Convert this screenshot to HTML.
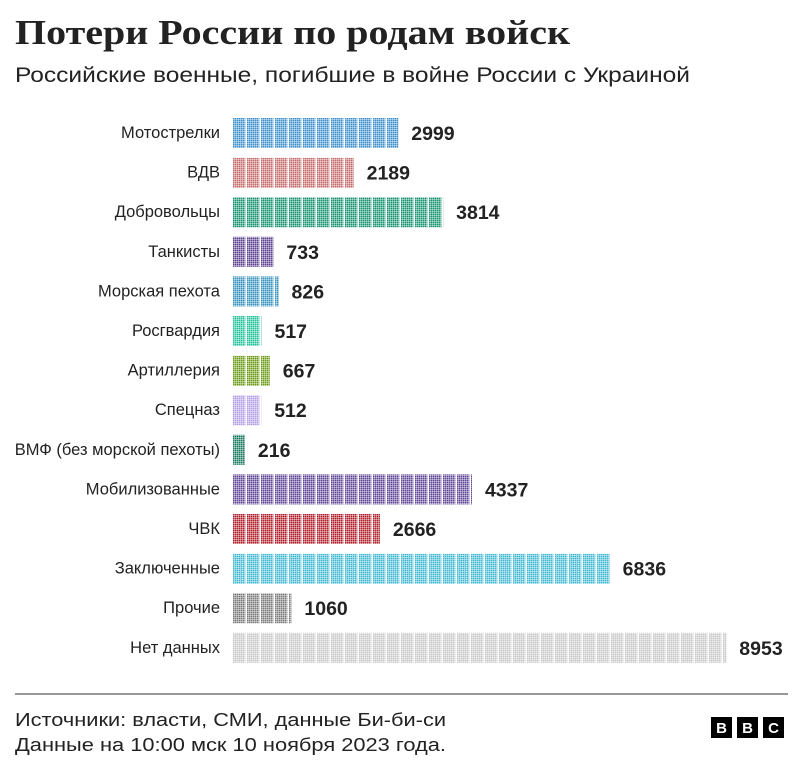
<!DOCTYPE html>
<html><head><meta charset="utf-8"><style>
html,body{margin:0;padding:0;background:#fff;}
svg{display:block;}
</style></head><body>
<svg width="803" height="771" viewBox="0 0 803 771" xmlns="http://www.w3.org/2000/svg">
<defs>
<pattern id="dots" x="233" y="0" width="2" height="2" patternUnits="userSpaceOnUse"><rect x="0" y="0" width="1.6" height="1.6" fill="#fff"/></pattern>
<pattern id="gaps" x="233" y="0" width="14" height="10" patternUnits="userSpaceOnUse"><rect x="12.4" y="0" width="1.6" height="10" fill="#fff"/></pattern>
<mask id="m" maskUnits="userSpaceOnUse" x="0" y="0" width="803" height="771"><rect width="803" height="771" fill="#000"/><rect width="803" height="771" fill="url(#dots)"/></mask>
</defs>
<text x="15" y="44" font-family="Liberation Serif, serif" font-weight="bold" font-size="35" fill="#222" textLength="555" lengthAdjust="spacingAndGlyphs">Потери России по родам войск</text>
<text x="15" y="82" font-family="Liberation Sans, DejaVu Sans, sans-serif" font-size="21" fill="#222" textLength="675" lengthAdjust="spacingAndGlyphs">Российские военные, погибшие в войне России с Украиной</text>
<g font-family="Liberation Sans, DejaVu Sans, sans-serif" id="rows"></g>
<line x1="15" y1="694" x2="788" y2="694" stroke="#777" stroke-width="1.5"/>
<g font-family="Liberation Sans, DejaVu Sans, sans-serif" font-size="18.5" fill="#222">
<text x="15" y="726" textLength="431" lengthAdjust="spacingAndGlyphs">Источники: власти, СМИ, данные Би-би-си</text>
<text x="15" y="751" textLength="431" lengthAdjust="spacingAndGlyphs">Данные на 10:00 мск 10 ноября 2023 года.</text>
</g>
<g font-family="Liberation Sans, sans-serif" font-weight="bold" font-size="15" fill="#fff" text-anchor="middle">
<rect x="711" y="717" width="21" height="21" fill="#000"/><text x="721.5" y="733">B</text>
<rect x="737" y="717" width="21" height="21" fill="#000"/><text x="747.5" y="733">B</text>
<rect x="763" y="717" width="21" height="21" fill="#000"/><text x="773.5" y="733">C</text>
</g>
</svg>
<script>
var d=[["Мотострелки",2999,"#3d8fcb"],["ВДВ",2189,"#c46a6a"],["Добровольцы",3814,"#14916f"],["Танкисты",733,"#5b3f8f"],["Морская пехота",826,"#3591bd"],["Росгвардия",517,"#22c29d"],["Артиллерия",667,"#6b9a14"],["Спецназ",512,"#b39ce6"],["ВМФ (без морской пехоты)",216,"#17785f"],["Мобилизованные",4337,"#5e4496"],["ЧВК",2666,"#b01c28"],["Заключенные",6836,"#3fb8d2"],["Прочие",1060,"#7a7a7a"],["Нет данных",8953,"#c8c8c8"]];
var g=document.getElementById("rows"),s="";
d.forEach(function(r,i){var c=133+i*39.6,w=r[1]*0.0551;
s+='<text x="220" y="'+(c+5)+'" text-anchor="end" font-size="16.5" fill="#222">'+r[0]+'</text>';
s+='<rect x="233" y="'+(c-15)+'" width="'+w+'" height="30" fill="'+r[2]+'" mask="url(#m)"/>';
s+='<rect x="233" y="'+(c-15)+'" width="'+w+'" height="30" fill="url(#gaps)"/>';
s+='<text x="'+(233+w+13)+'" y="'+(c+7)+'" font-size="19.5" font-weight="bold" fill="#222">'+r[1]+'</text>';});
g.innerHTML=s;
</script>
</body></html>
